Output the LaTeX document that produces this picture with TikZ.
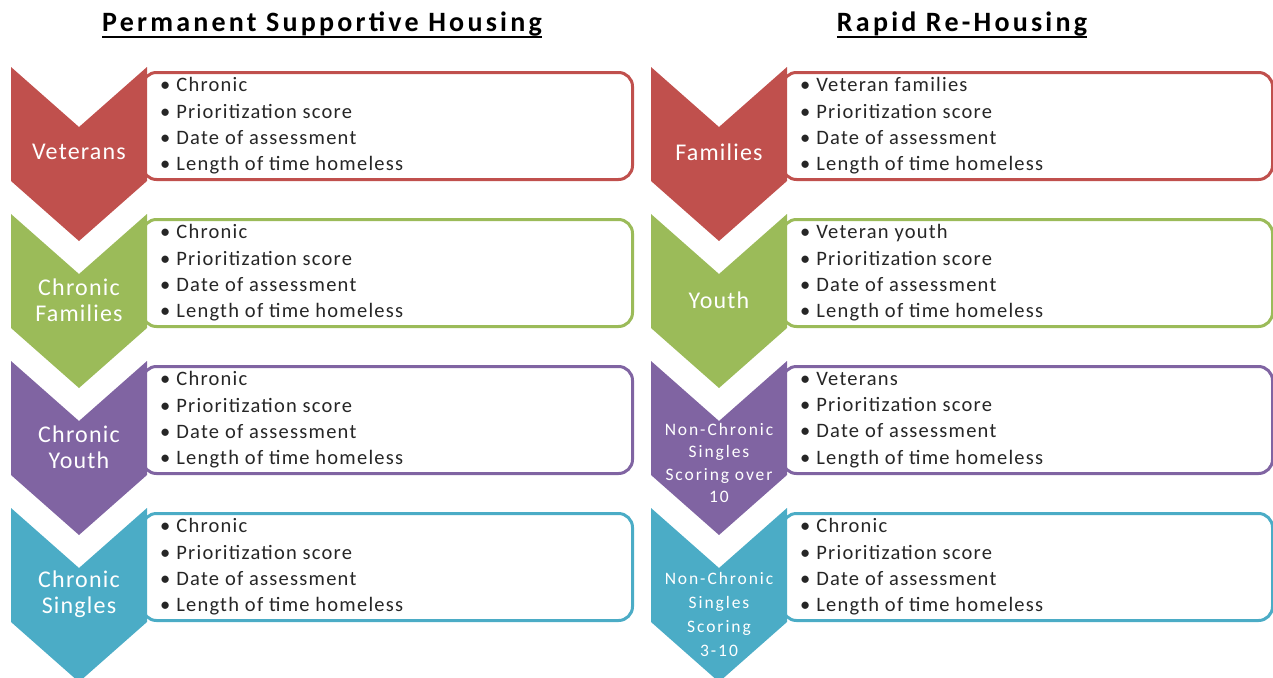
\documentclass[tikz,border=0pt]{standalone}
\usepackage{fontspec}
\setmainfont{Carlito}
\usetikzlibrary{positioning}

\definecolor{rowred}{HTML}{C0504D}
\definecolor{rowgreen}{HTML}{9BBB59}
\definecolor{rowpurple}{HTML}{8064A2}
\definecolor{rowcyan}{HTML}{4BACC6}

\begin{document}
\begin{tikzpicture}[x=1pt,y=-1pt,
	box/.style={draw,line width=3pt,fill=white,rounded corners=14pt,minimum width=490pt,
		minimum height=107pt,anchor=north west},
	item/.style={anchor=west,align=left,inner sep=0pt,text=black!85,
		font=\fontsize{20.5}{26.3}\selectfont\addfontfeatures{LetterSpace=6}},
	tag/.style={text=white,align=center,inner sep=0pt,
		font=\fontsize{24}{26}\selectfont\addfontfeatures{LetterSpace=5}},
	smalltag/.style={tag,font=\fontsize{17.5}{22.5}\selectfont\addfontfeatures{LetterSpace=11}},
	title/.style={anchor=base,inner sep=0pt,
		font=\bfseries\fontsize{28}{30}\selectfont\addfontfeatures{LetterSpace=11.5}}]
	\useasboundingbox (0,0) rectangle (1273,677);

	% titles
	\node[title](T1) at (322,32){Permanent Supportive Housing};
	\node[title](T2) at (962,32){Rapid Re-Housing};
	\draw[line width=2pt] ([yshift=-5pt]T1.base west) -- ([yshift=-5pt]T1.base east);
	\draw[line width=2pt] ([yshift=-5pt]T2.base west) -- ([yshift=-5pt]T2.base east);

	% left column
	\node[box,draw=rowred](B1) at (141,71){};
	\fill[rowred] (11,67) -- ++(68,60) -- ++(68,-60) -- ++(0,114) -- ++(-68,60) -- ++(-68,-60) -- cycle;
	\node[tag](C1) at (79,152){Veterans};
	\node[item](L1)[right=19pt of B1.west]{\textbullet\hspace{6pt}Chronic\\\textbullet\hspace{6pt}Prioritization score\\
		\textbullet\hspace{6pt}Date of assessment\\\textbullet\hspace{6pt}Length of time homeless};

	\node[box,draw=rowgreen](B2) at (141,218){};
	\fill[rowgreen] (11,214) -- ++(68,60) -- ++(68,-60) -- ++(0,114) -- ++(-68,60) -- ++(-68,-60) -- cycle;
	\node[tag](C2) at (79,300){Chronic\\Families};
	\node[item](L2)[right=19pt of B2.west]{\textbullet\hspace{6pt}Chronic\\\textbullet\hspace{6pt}Prioritization score\\
		\textbullet\hspace{6pt}Date of assessment\\\textbullet\hspace{6pt}Length of time homeless};

	\node[box,draw=rowpurple](B3) at (141,365){};
	\fill[rowpurple] (11,361) -- ++(68,60) -- ++(68,-60) -- ++(0,114) -- ++(-68,60) -- ++(-68,-60) -- cycle;
	\node[tag](C3) at (79,447){Chronic\\Youth};
	\node[item](L3)[right=19pt of B3.west]{\textbullet\hspace{6pt}Chronic\\\textbullet\hspace{6pt}Prioritization score\\
		\textbullet\hspace{6pt}Date of assessment\\\textbullet\hspace{6pt}Length of time homeless};

	\node[box,draw=rowcyan](B4) at (141,512){};
	\fill[rowcyan] (11,508) -- ++(68,60) -- ++(68,-60) -- ++(0,114) -- ++(-68,60) -- ++(-68,-60) -- cycle;
	\node[tag](C4) at (79,594){Chronic\\Singles};
	\node[item](L4)[right=19pt of B4.west]{\textbullet\hspace{6pt}Chronic\\\textbullet\hspace{6pt}Prioritization score\\
		\textbullet\hspace{6pt}Date of assessment\\\textbullet\hspace{6pt}Length of time homeless};

	% right column
	\node[box,draw=rowred](B5) at (781,71){};
	\fill[rowred] (651,67) -- ++(68,60) -- ++(68,-60) -- ++(0,114) -- ++(-68,60) -- ++(-68,-60) -- cycle;
	\node[tag](C5) at (719,152){Families};
	\node[item](L5)[right=19pt of B5.west]{\textbullet\hspace{6pt}Veteran families\\\textbullet\hspace{6pt}Prioritization score\\
		\textbullet\hspace{6pt}Date of assessment\\\textbullet\hspace{6pt}Length of time homeless};

	\node[box,draw=rowgreen](B6) at (781,218){};
	\fill[rowgreen] (651,214) -- ++(68,60) -- ++(68,-60) -- ++(0,114) -- ++(-68,60) -- ++(-68,-60) -- cycle;
	\node[tag](C6) at (719,300){Youth};
	\node[item](L6)[right=19pt of B6.west]{\textbullet\hspace{6pt}Veteran youth\\\textbullet\hspace{6pt}Prioritization score\\
		\textbullet\hspace{6pt}Date of assessment\\\textbullet\hspace{6pt}Length of time homeless};

	\node[box,draw=rowpurple](B7) at (781,365){};
	\fill[rowpurple] (651,361) -- ++(68,60) -- ++(68,-60) -- ++(0,114) -- ++(-68,60) -- ++(-68,-60) -- cycle;
	\node[smalltag](C7) at (719,463){Non-Chronic\\Singles\\Scoring over\\10};
	\node[item](L7)[right=19pt of B7.west]{\textbullet\hspace{6pt}Veterans\\\textbullet\hspace{6pt}Prioritization score\\
		\textbullet\hspace{6pt}Date of assessment\\\textbullet\hspace{6pt}Length of time homeless};

	\node[box,draw=rowcyan](B8) at (781,512){};
	\fill[rowcyan] (651,508) -- ++(68,60) -- ++(68,-60) -- ++(0,114) -- ++(-68,60) -- ++(-68,-60) -- cycle;
	\node[smalltag,font=\fontsize{17.5}{24}\selectfont\addfontfeatures{LetterSpace=11}](C8) at (719,614){Non-Chronic\\Singles\\Scoring\\3-10};
	\node[item](L8)[right=19pt of B8.west]{\textbullet\hspace{6pt}Chronic\\\textbullet\hspace{6pt}Prioritization score\\
		\textbullet\hspace{6pt}Date of assessment\\\textbullet\hspace{6pt}Length of time homeless};
\end{tikzpicture}
\end{document}
